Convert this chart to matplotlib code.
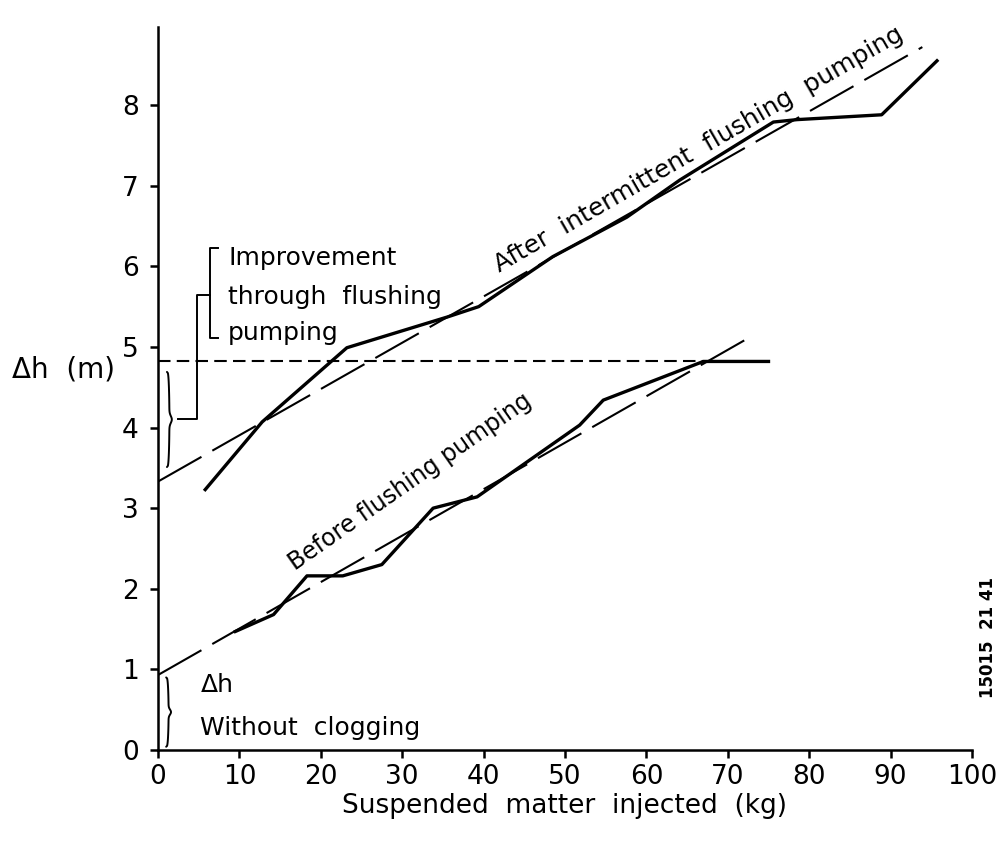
import numpy as np
import matplotlib
matplotlib.use("Agg")
import matplotlib.pyplot as plt

plt.rcParams['font.family'] = ['DejaVu Sans']

# upper curve: after intermittent flushing pumping
after_x = [5.8, 12.8, 23.2, 35.5, 39.4, 48.5, 57.6, 64.1, 75.6, 78.5, 88.9, 95.7]
after_y = [3.23, 4.07, 4.99, 5.37, 5.50, 6.12, 6.61, 7.07, 7.79, 7.82, 7.88, 8.55]
# fitted straight line for the upper curve
after_fit_x = [0, 93.9]
after_fit_y = [3.33, 8.72]

# lower curve: before flushing pumping
before_x = [9.5, 14.2, 18.3, 22.7, 27.5, 33.8, 39.2, 51.8, 54.7, 67.0, 75.0]
before_y = [1.47, 1.68, 2.16, 2.16, 2.30, 3.00, 3.14, 4.03, 4.34, 4.82, 4.82]
before_fit_x = [0, 72.7]
before_fit_y = [0.93, 5.12]

# level reached before flushing
level_x = [0, 67.0]
level_y = [4.82, 4.82]

xticks = list(range(0, 101, 10))
yticks = list(range(0, 9))


def brace(ax, x, y0, y1, w):
    # thin curly brace opening to the left
    t = np.linspace(0, 1, 80)
    ys = y0 + (y1 - y0) * t
    xs = x + w * (0.5 * np.sin(np.pi * t) ** 0.3 + 0.5 * np.exp(-((t - 0.5) / 0.05) ** 2)) - w * 0.5
    ax.plot(xs, ys, color='black', lw=1.4, solid_capstyle='round')


fig = plt.figure(figsize=(10, 8.44), dpi=100)
ax = fig.add_axes([0.158, 0.1114, 0.814, 0.8567])
ax.set_xlim(0, 100)
ax.set_ylim(0, 8.97)

ax.plot(after_x, after_y, color='black', lw=2.4)
ax.plot(after_fit_x, after_fit_y, color='black', lw=1.5, dashes=(24, 6))
ax.plot(before_x, before_y, color='black', lw=2.4)
ax.plot(before_fit_x, before_fit_y, color='black', lw=1.5, dashes=(24, 6))
ax.plot(level_x, level_y, color='black', lw=1.5, dashes=(6, 3))

for side in ['top', 'right']:
    ax.spines[side].set_visible(False)
for side in ['left', 'bottom']:
    ax.spines[side].set_linewidth(1.8)

ax.set_xticks(xticks)
ax.set_yticks(yticks)
ax.tick_params(direction='out', length=6, width=1.8, labelsize=19)
ax.tick_params(axis='y', pad=8)
ax.tick_params(axis='x', pad=4)

fs = 18
ax.text(-17.9, 4.72, "\u0394h  (m)", fontsize=20, ha='left', va='center', clip_on=False)
ax.text(50, -0.7, "Suspended  matter  injected  (kg)", fontsize=19, ha='center',
        va='center', clip_on=False)

ax.text(42.0, 5.92, "After  intermittent  flushing  pumping", fontsize=fs, rotation=30,
        rotation_mode='anchor', ha='left', va='baseline')
ax.text(16.8, 2.22, "Before flushing pumping", fontsize=17, rotation=35,
        rotation_mode='anchor', ha='left', va='baseline')

# improvement bracket
ax.plot([7.4, 6.4, 6.4, 7.4], [6.23, 6.23, 5.11, 5.11], color='black', lw=1.4)
ax.plot([6.4, 4.8, 4.8, 2.5], [5.64, 5.64, 4.11, 4.11], color='black', lw=1.4)
brace(ax, 1.4, 3.51, 4.69, 0.6)
ax.text(8.6, 6.1, "Improvement", fontsize=fs, ha='left', va='center')
ax.text(8.6, 5.62, "through  flushing", fontsize=fs, ha='left', va='center')
ax.text(8.6, 5.17, "pumping", fontsize=fs, ha='left', va='center')

# without clogging
brace(ax, 1.3, 0.04, 0.9, 0.6)
ax.text(5.2, 0.81, "\u0394h", fontsize=fs, ha='left', va='center')
ax.text(5.2, 0.27, "Without  clogging", fontsize=fs, ha='left', va='center')

fig.text(0.988, 0.245, "15015  21 41", fontsize=12, fontweight='bold', rotation=90,
         ha='center', va='center')

fig.savefig("out.png", dpi=100)
